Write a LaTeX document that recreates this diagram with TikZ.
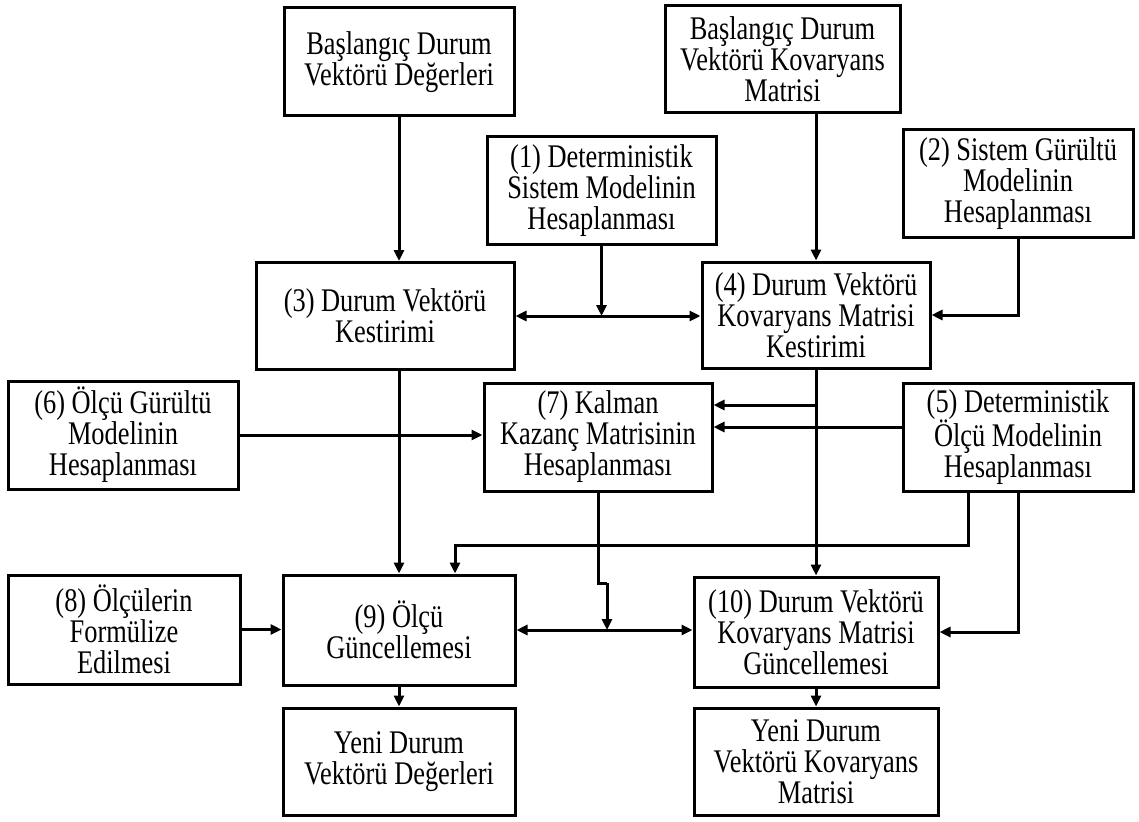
\documentclass[tikz,border=0pt]{standalone}
\usepackage{fontspec}
\setmainfont{Liberation Serif}[FakeStretch=0.8]
\usetikzlibrary{arrows.meta}
\begin{document}
\begin{tikzpicture}[x=1pt,y=-1pt,
  box/.style={draw=black,line width=3pt,fill=white,align=center,inner sep=2pt,
    font=\fontsize{33}{31}\selectfont},
  arr/.style={line width=3pt,-{Triangle[length=11pt,width=10pt]}},
  darr/.style={line width=3pt,{Triangle[length=11pt,width=10pt]}-{Triangle[length=11pt,width=10pt]}},
  ln/.style={line width=3pt}]
\fill[white] (0,0) rectangle (1139,821);
\useasboundingbox (0,0) rectangle (1139,821);

\node[box,minimum width=230pt,minimum height=108pt] (A) at (399,62) {Başlangıç Durum\\Vektörü Değerleri};
\node[box,minimum width=235pt,minimum height=107pt] (B) at (782.5,59.5) {Başlangıç Durum\\Vektörü Kovaryans\\Matrisi};
\node[box,minimum width=229pt,minimum height=107pt] (C) at (601.5,190.5) {(1) Deterministik\\Sistem Modelinin\\Hesaplanması};
\node[box,minimum width=230pt,minimum height=107pt] (D) at (1018,183.5) {(2) Sistem Gürültü\\Modelinin\\Hesaplanması};
\node[box,minimum width=258pt,minimum height=107pt] (E) at (385,316) {(3) Durum Vektörü\\Kestirimi};
\node[box,minimum width=228pt,minimum height=106pt] (F) at (816,315) {(4) Durum Vektörü\\Kovaryans Matrisi\\Kestirimi};
\node[box,minimum width=230pt,minimum height=108pt] (G) at (123,435) {(6) Ölçü Gürültü\\Modelinin\\Hesaplanması};
\node[box,minimum width=228pt,minimum height=108pt] (H) at (598,437) {(7) Kalman\\Kazanç Matrisinin\\Hesaplanması};
\node[box,minimum width=230pt,minimum height=108pt] (I) at (1018,437) {(5) Deterministik\\Ölçü Modelinin\\Hesaplanması};
\node[box,minimum width=232pt,minimum height=109pt] (J) at (124,629.5) {(8) Ölçülerin\\Formülize\\Edilmesi};
\node[box,minimum width=232pt,minimum height=110pt] (K) at (399,630) {(9) Ölçü\\Güncellemesi};
\node[box,minimum width=244pt,minimum height=110pt] (L) at (816,632) {(10) Durum Vektörü\\Kovaryans Matrisi\\Güncellemesi};
\node[box,minimum width=232pt,minimum height=107pt] (M) at (399,761.5) {Yeni Durum\\Vektörü Değerleri};
\node[box,minimum width=244pt,minimum height=107pt] (N) at (816,761.5) {Yeni Durum\\Vektörü Kovaryans\\Matrisi};

% top inputs
\draw[arr] (A.south) -- (A.south |- E.north);
\draw[arr] (B.south -| F.north) -- (F.north);
% (1) into the E-F link
\coordinate (j1) at (C.south |- E.east);
\draw[arr] (C.south) -- (j1);
\draw[darr] (E.east) -- (E.east -| F.west);
% (2) into (4)
\draw[arr] (D.south) |- (F.east);
% (4) down to (10) and into (7)
\draw[arr] (F.south) -- (L.north);
\coordinate (j2) at (816,405);
\draw[arr] (j2) -- (j2 -| H.east);
% (5) into (7)
\draw[arr] (I.west |- 0,427) -- (H.east |- 0,427);
% (3) to (9)
\draw[arr] (E.south -| K.north) -- (K.north);
% (6) to (7)
\draw[arr] (G.east) -- (G.east -| H.west);
% (5) to (9)
\coordinate (p1) at (968,545);
\draw[arr] (I.south -| p1) -- (p1) -| (K.north -| 455,0);
% (7) to the K-L link
\coordinate (j3) at (607,630);
\draw[ln] (H.south) -- (598,583) -- (607,583);
\draw[arr] (607,583) -- (j3);
\draw[darr] (K.east) -- (K.east -| L.west);
% (5) to (10)
\draw[arr] (I.south) |- (L.east);
% (8) to (9)
\draw[arr] (J.east) -- (J.east -| K.west);
% outputs
\draw[arr] (K.south) -- (M.north);
\draw[arr] (L.south) -- (N.north);
\end{tikzpicture}
\end{document}
